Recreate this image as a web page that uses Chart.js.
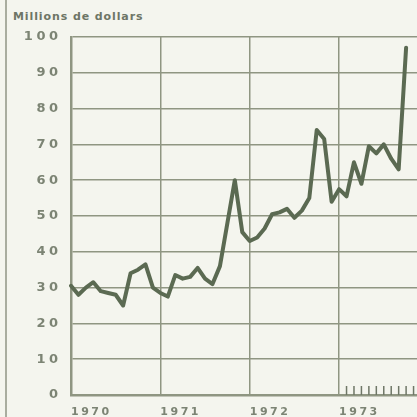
<!DOCTYPE html>
<html>
<head>
<meta charset="utf-8">
<script src="https://cdn.jsdelivr.net/npm/chart.js@4"></script>
<style>
    html, body {
        margin: 0;
        padding: 0;
        overflow: hidden;
        background: #f4f5ee;
    }
    #wrap {
        position: relative;
        width: 417px;
        height: 417px;
        overflow: hidden;
    }
    #edge {
        position: absolute;
        left: 5px;
        top: 0;
        width: 1.5px;
        height: 417px;
        background: #a9ad9f;
    }
    #title {
        position: absolute;
        left: 13px;
        top: 10px;
        font: bold 11px "DejaVu Sans", sans-serif;
        letter-spacing: 0.9px;
        color: #6d7566;
        white-space: nowrap;
    }
    canvas {
        position: absolute;
        left: 0;
        top: 0;
    }
</style>
</head>
<body>
<div id="wrap">
    <div id="edge"></div>
    <div id="title">Millions de dollars</div>
    <canvas id="chart" width="421" height="417"></canvas>
</div>
<script>
// données mensuelles, janvier 1970 - octobre 1973
const years = ['1970', '1971', '1972', '1973'];
const months = ['janv', 'févr', 'mars', 'avr', 'mai', 'juin', 'juil', 'août', 'sept', 'oct', 'nov', 'déc'];
const yTicks = [0, 10, 20, 30, 40, 50, 60, 70, 80, 90, 100];

const values1970 = [30.5, 28, 30, 31.5, 29, 28.5, 28, 25, 34, 35, 36.5, 30];
const values1971 = [28.5, 27.5, 33.5, 32.5, 33, 35.5, 32.5, 31, 36, 48, 60, 45.5];
const values1972 = [43, 44, 46.5, 50.5, 51, 52, 49.5, 51.5, 55, 74, 71.5, 54];
const values1973 = [57.5, 55.5, 65, 59, 69.5, 67.5, 70, 66, 63, 97, null, null];

const categories = [];
years.forEach(function (y) {
    months.forEach(function (m) {
        categories.push(m + ' ' + y);
    });
});
const values = [].concat(values1970, values1971, values1972, values1973);

const lineColor = '#5b6a52';
const gridColor = '#8f9682';
const textColor = '#7c8474';

// espacement des lettres des étiquettes (comme l'original)
const letterSpacingPlugin = {
    id: 'letterSpacing',
    beforeDraw(chart) {
        chart.ctx.letterSpacing = '3.5px';    // étiquettes de l'axe y
    },
    afterDatasetsDraw(chart) {
        // petits repères mensuels en 1973
        const ctx = chart.ctx;
        const x = chart.scales.x;
        const bottom = chart.chartArea.bottom;
        ctx.save();
        ctx.strokeStyle = '#6f7767';
        ctx.lineWidth = 1.5;
        for (let i = categories.indexOf('févr 1973'); i < categories.length; i++) {
            const px = x.getPixelForValue(i);
            ctx.beginPath();
            ctx.moveTo(px, bottom - 9);
            ctx.lineTo(px, bottom);
            ctx.stroke();
        }
        ctx.restore();
        ctx.letterSpacing = '2.5px';          // étiquettes de l'axe x
    },
    afterDraw(chart) {
        chart.ctx.letterSpacing = '0px';
    }
};

const ctx = document.getElementById('chart').getContext('2d');
const chart = new Chart(ctx, {
    type: 'line',
    data: {
        labels: categories,
        datasets: [{
            data: values,
            borderColor: lineColor,
            borderWidth: 4,
            borderJoinStyle: 'round',
            borderCapStyle: 'round',
            pointRadius: 0,
            tension: 0,
            fill: false
        }]
    },
    options: {
        responsive: false,
        animation: false,
        devicePixelRatio: 1,
        layout: {
            padding: { top: 37, left: 0, right: 0, bottom: 0 }
        },
        plugins: {
            legend: { display: false },
            tooltip: { enabled: false }
        },
        scales: {
            x: {
                offset: false,
                afterFit: function (scale) {
                    scale.height = 22;
                    scale.paddingLeft = 0;
                    scale.paddingRight = 0;
                },
                grid: {
                    color: function (c) { return c.index % 12 === 0 ? gridColor : 'transparent'; },
                    lineWidth: 1.5,
                    drawTicks: false
                },
                border: { color: gridColor, width: 2.5 },
                ticks: {
                    autoSkip: false,
                    maxRotation: 0,
                    align: 'start',
                    padding: 11,
                    z: 1,
                    color: textColor,
                    font: { family: 'DejaVu Sans', size: 11, weight: 'bold' },
                    callback: function (value, index) {
                        return index % 12 === 0 ? years[index / 12] : '';
                    }
                }
            },
            y: {
                min: 0,
                max: 100,
                afterFit: function (scale) { scale.width = 71; },
                afterBuildTicks: function (scale) {
                    scale.ticks = yTicks.map(function (v) { return { value: v }; });
                },
                grid: {
                    color: gridColor,
                    lineWidth: 1.5,
                    drawTicks: false
                },
                border: { color: gridColor, width: 2.5 },
                ticks: {
                    padding: 9.5,
                    color: textColor,
                    font: { family: 'DejaVu Sans', size: 13, weight: 'bold' }
                }
            }
        }
    },
    plugins: [letterSpacingPlugin]
});
</script>
</body>
</html>
